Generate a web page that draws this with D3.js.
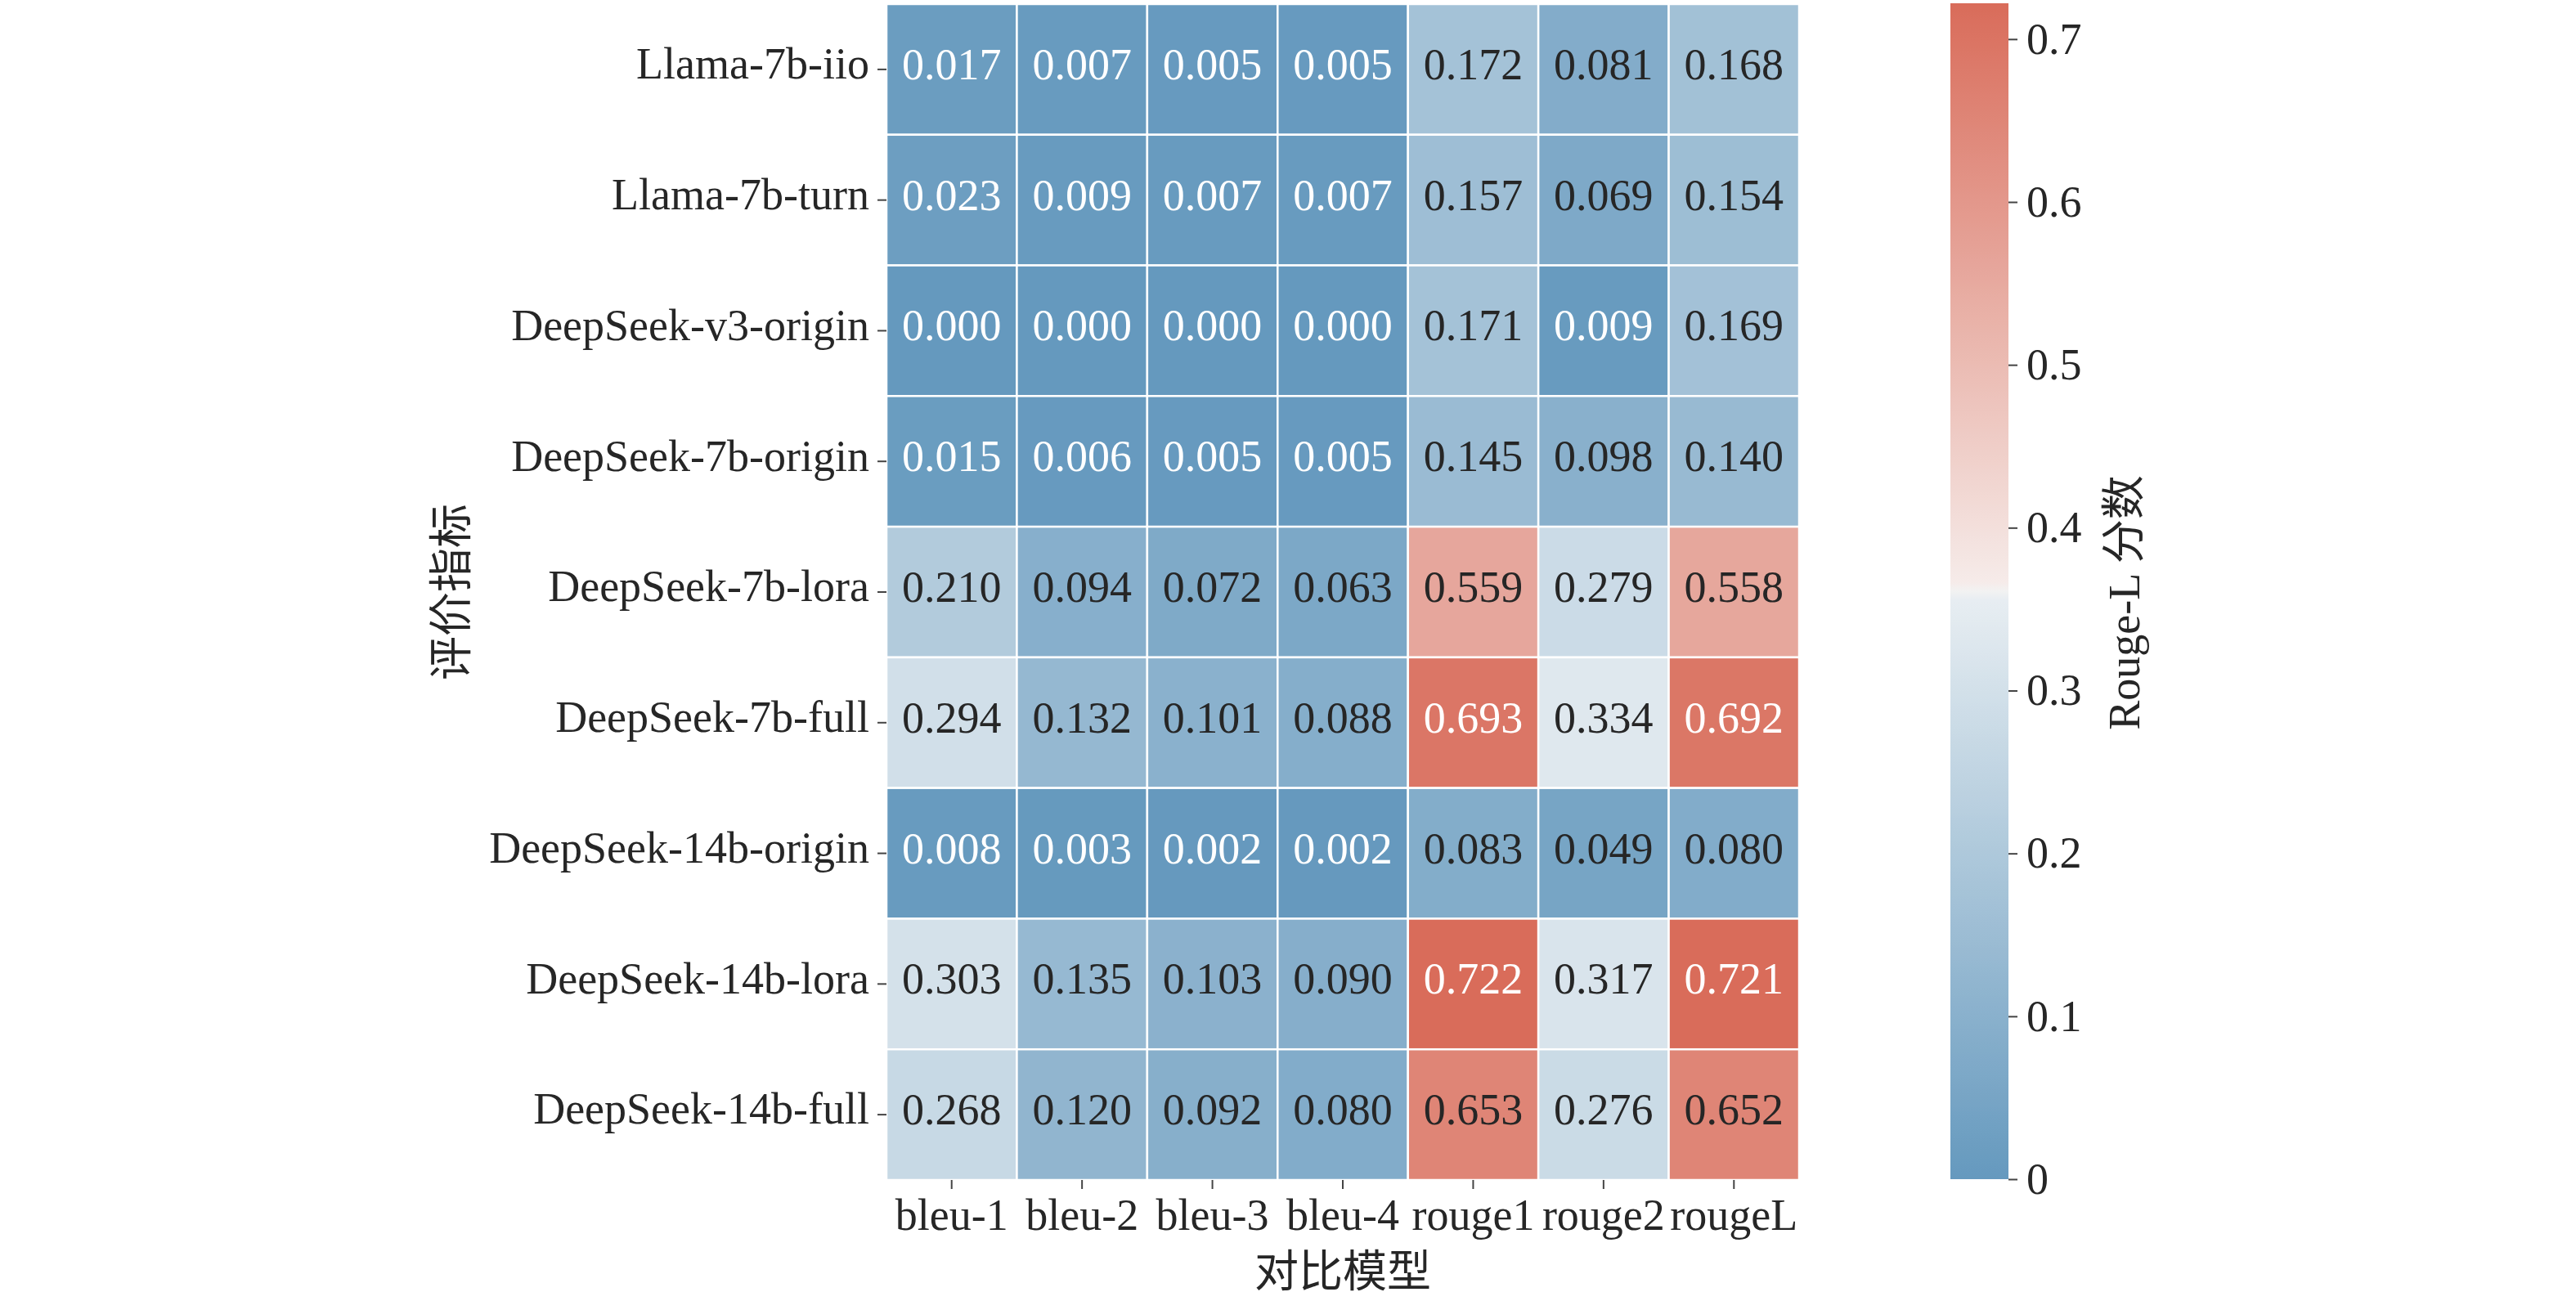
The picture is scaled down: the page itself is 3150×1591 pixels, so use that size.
<!DOCTYPE html>
<html>
<head>
<meta charset="utf-8">
<script src="https://cdn.jsdelivr.net/npm/d3@7"></script>
<style>
  body { margin: 0; background: #fff; }
  svg { display: block; }
</style>
</head>
<body>
<div id="chart"></div>
<script>
const models = [
  "Llama-7b-iio",
  "Llama-7b-turn",
  "DeepSeek-v3-origin",
  "DeepSeek-7b-origin",
  "DeepSeek-7b-lora",
  "DeepSeek-7b-full",
  "DeepSeek-14b-origin",
  "DeepSeek-14b-lora",
  "DeepSeek-14b-full"
]

const metrics = ["bleu-1", "bleu-2", "bleu-3", "bleu-4", "rouge1", "rouge2", "rougeL"]

// one row per model, one value per metric
const scores = [
  [0.017, 0.007, 0.005, 0.005, 0.172, 0.081, 0.168],
  [0.023, 0.009, 0.007, 0.007, 0.157, 0.069, 0.154],
  [0.000, 0.000, 0.000, 0.000, 0.171, 0.009, 0.169],
  [0.015, 0.006, 0.005, 0.005, 0.145, 0.098, 0.140],
  [0.210, 0.094, 0.072, 0.063, 0.559, 0.279, 0.558],
  [0.294, 0.132, 0.101, 0.088, 0.693, 0.334, 0.692],
  [0.008, 0.003, 0.002, 0.002, 0.083, 0.049, 0.080],
  [0.303, 0.135, 0.103, 0.090, 0.722, 0.317, 0.721],
  [0.268, 0.120, 0.092, 0.080, 0.653, 0.276, 0.652]
]

const colorbarTicks = [0, 0.1, 0.2, 0.3, 0.4, 0.5, 0.6, 0.7]

const xTitle = "对比模型"
const yTitle = "评价指标"
const cbarTitle = "Rouge-L 分数"

const dimensions = {
  width: 3150,
  height: 1591,
  heat: { left: 1084, right: 2200, top: 5, bottom: 1443 },
  cbar: { left: 2385, right: 2456 }
}

const serif = "'Liberation Serif', 'Times New Roman', 'Noto Sans CJK SC', serif"
const cjk = "'Noto Sans CJK SC', 'Noto Sans CJK JP', sans-serif"
const fontSize = 54
const textDark = "#262626"
// matplotlib centres text on its full box, which sits a little above the em centre
const textLift = 6

const cells = []
scores.forEach((row, i) => row.forEach((v, j) => cells.push({ model: models[i], metric: metrics[j], value: v })))

const vmin = 0
const vmax = d3.max(cells, d => d.value)
const mid = (vmin + vmax) / 2
const eps = (vmax - vmin) * 0.004

// blue -> light -> red, blended in rgb like seaborn's diverging palette
const color = d3.scaleLinear()
  .domain([vmin, mid - eps, mid, mid + eps, vmax])
  .range(["#6599be", "#e8eef2", "#f2f2f2", "#f6ecea", "#d96c5a"])
  .interpolate(d3.interpolateRgb)

const svg = d3.select("#chart")
  .append("svg")
  .attr("width", dimensions.width)
  .attr("height", dimensions.height)

const xScale = d3.scaleBand()
  .domain(metrics)
  .range([dimensions.heat.left, dimensions.heat.right])

const yScale = d3.scaleBand()
  .domain(models)
  .range([dimensions.heat.top, dimensions.heat.bottom])

// cells
svg.append("g")
  .selectAll("rect")
  .data(cells)
  .join("rect")
  .attr("x", d => xScale(d.metric))
  .attr("y", d => yScale(d.model))
  .attr("width", xScale.bandwidth())
  .attr("height", yScale.bandwidth())
  .attr("fill", d => color(d.value))
  .attr("stroke", "#fff")
  .attr("stroke-width", 2.5)

// annotations: white text where the colour is far from the light centre
svg.append("g")
  .selectAll("text")
  .data(cells)
  .join("text")
  .attr("x", d => xScale(d.metric) + xScale.bandwidth() / 2)
  .attr("y", d => yScale(d.model) + yScale.bandwidth() / 2 - textLift)
  .attr("text-anchor", "middle")
  .attr("dominant-baseline", "central")
  .attr("font-family", serif)
  .attr("font-size", fontSize)
  .attr("fill", d => Math.abs(d.value - mid) / (mid - vmin) > 0.87 ? "#fff" : textDark)
  .text(d => d.value.toFixed(3))

// axes
const styleAxis = g => {
  g.select(".domain").remove()
  g.selectAll(".tick line").attr("stroke", "#444").attr("stroke-width", 2)
  g.selectAll(".tick text")
    .attr("font-family", serif)
    .attr("font-size", fontSize)
    .attr("fill", textDark)
}

svg.append("g")
  .attr("transform", `translate(0, ${dimensions.heat.bottom})`)
  .call(d3.axisBottom(xScale).tickSize(11).tickPadding(12))
  .call(styleAxis)

svg.append("g")
  .attr("transform", `translate(${dimensions.heat.left}, 0)`)
  .call(d3.axisLeft(yScale).tickSize(11).tickPadding(10))
  .call(styleAxis)
  .call(g => g.selectAll(".tick text").attr("y", -textLift))

svg.append("text")
  .attr("x", (dimensions.heat.left + dimensions.heat.right) / 2)
  .attr("y", 1550)
  .attr("text-anchor", "middle")
  .attr("dominant-baseline", "central")
  .attr("font-family", cjk)
  .attr("font-size", fontSize)
  .attr("fill", textDark)
  .text(xTitle)

svg.append("text")
  .attr("transform", `translate(547, ${(dimensions.heat.top + dimensions.heat.bottom) / 2}) rotate(-90)`)
  .attr("text-anchor", "middle")
  .attr("dominant-baseline", "central")
  .attr("font-family", cjk)
  .attr("font-size", fontSize)
  .attr("fill", textDark)
  .text(yTitle)

// colorbar
const cScale = d3.scaleLinear()
  .domain([vmin, vmax])
  .range([1442, 4])

const grad = svg.append("defs")
  .append("linearGradient")
  .attr("id", "cbar-grad")
  .attr("x1", 0).attr("y1", 1)
  .attr("x2", 0).attr("y2", 0)

grad.selectAll("stop")
  .data(d3.range(0, 1.0001, 1 / 128))
  .join("stop")
  .attr("offset", t => t)
  .attr("stop-color", t => color(vmin + t * (vmax - vmin)))

svg.append("rect")
  .attr("x", dimensions.cbar.left)
  .attr("y", cScale(vmax))
  .attr("width", dimensions.cbar.right - dimensions.cbar.left)
  .attr("height", cScale(vmin) - cScale(vmax))
  .attr("fill", "url(#cbar-grad)")

svg.append("g")
  .attr("transform", `translate(${dimensions.cbar.right}, 0)`)
  .call(d3.axisRight(cScale).tickValues(colorbarTicks).tickSize(11).tickPadding(11)
    .tickFormat(d => d === 0 ? "0" : d3.format(".1f")(d)))
  .call(styleAxis)

svg.append("text")
  .attr("transform", `translate(2598, ${(cScale(vmin) + cScale(vmax)) / 2 + 14}) rotate(-90)`)
  .attr("text-anchor", "middle")
  .attr("dominant-baseline", "central")
  .attr("font-family", serif)
  .attr("font-size", fontSize)
  .attr("fill", textDark)
  .text(cbarTitle)
</script>
</body>
</html>
